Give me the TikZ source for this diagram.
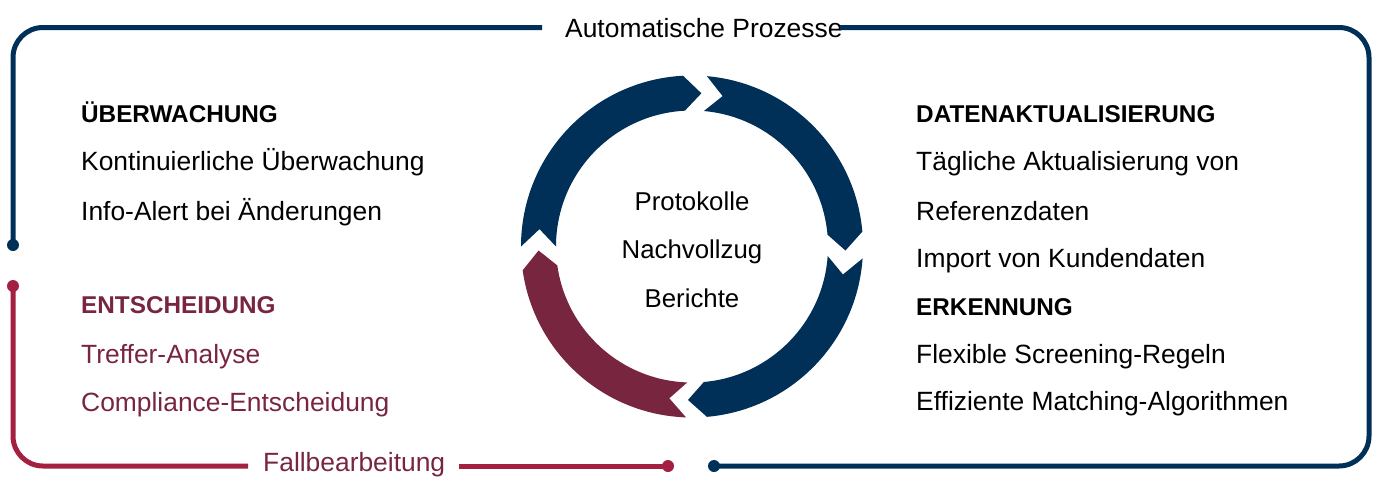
\documentclass[tikz,border=0pt]{standalone}
\usepackage{fontspec}
\setmainfont{Liberation Sans}
\definecolor{navy}{RGB}{0,48,87}
\definecolor{maroon}{RGB}{120,38,64}
\definecolor{framered}{RGB}{163,32,64}
\begin{document}
\begin{tikzpicture}[x=1pt,y=-1pt,
  txt/.style={anchor=base west, inner sep=0pt, font=\fontsize{26.4}{30}\selectfont},
  ctxt/.style={anchor=base, inner sep=0pt, font=\fontsize{25.8}{30}\selectfont},
  hd/.style={anchor=base west, inner sep=0pt, font=\fontsize{24.3}{28}\selectfont\bfseries},
  dotnode/.style={circle, inner sep=0pt, minimum size=12pt},
  navyline/.style={draw=navy, line width=5pt, rounded corners=30pt},
  redline/.style={draw=framered, line width=5pt, rounded corners=30pt}]
\useasboundingbox (0,0) rectangle (1378,477);

% ring
\begin{scope}[shift={(692,246.5)}, y=1pt]
  \def\Ro{171pt}\def\Ri{136pt}\def\Rm{153.5pt}\def\dd{6.5}
  \fill[navy] (180:\Ro) arc[start angle=180,end angle=93,radius=\Ro] -- (93-\dd:\Rm) -- (93:\Ri)
     arc[start angle=93,end angle=180,radius=\Ri] -- (180-\dd:\Rm) -- cycle;
  \fill[navy] (85:\Ro) arc[start angle=85,end angle=5,radius=\Ro] -- (5-\dd:\Rm) -- (5:\Ri)
     arc[start angle=5,end angle=85,radius=\Ri] -- (85-\dd:\Rm) -- cycle;
  \fill[navy] (-4:\Ro) arc[start angle=-4,end angle=-85,radius=\Ro] -- (-85-\dd:\Rm) -- (-85:\Ri)
     arc[start angle=-85,end angle=-4,radius=\Ri] -- (-4-\dd:\Rm) -- cycle;
  \fill[maroon] (-92:\Ro) arc[start angle=-92,end angle=-172,radius=\Ro] -- (-172-\dd:\Rm) -- (-172:\Ri)
     arc[start angle=-172,end angle=-92,radius=\Ri] -- (-92-\dd:\Rm) -- cycle;
\end{scope}

% centre text
\node[ctxt] (c1) at (692,210) {Protokolle};
\node[ctxt] (c2) at (692,258) {Nachvollzug};
\node[ctxt] (c3) at (692,307) {Berichte};

% frame labels
\node[txt] (auto) at (565,37) {Automatische Prozesse};
\node[txt, text=maroon] (fall) at (263,471) {Fallbearbeitung};
\coordinate (tl) at (542,27.5);
\coordinate (tr) at (840,27.5);
\coordinate (rl) at (248,466);
\coordinate (rr) at (459,466);

% dots
\node[dotnode, fill=navy] (bdotL) at (13,245) {};
\node[dotnode, fill=navy] (bdotB) at (714,466) {};
\node[dotnode, fill=framered] (rdotL) at (13,286) {};
\node[dotnode, fill=framered] (rdotB) at (668,466) {};

% frame lines
\draw[navyline] (tl) -- (13,27.5) -- (bdotL.center);
\draw[navyline] (tr) -- (1369,27.5) -- (1369,466) -- (bdotB.center);
\draw[redline] (rdotL.center) -- (13,466) -- (rl);
\draw[redline] (rr) -- (rdotB.center);

% left column
\node[hd] (h1) at (81,122) {ÜBERWACHUNG};
\node[txt] (l1) at (81,170) {Kontinuierliche Überwachung};
\node[txt] (l2) at (81,220) {Info-Alert bei Änderungen};
\node[hd, text=maroon] (h2) at (81,313) {ENTSCHEIDUNG};
\node[txt, text=maroon] (l3) at (81,363) {Treffer-Analyse};
\node[txt, text=maroon] (l4) at (81,411) {Compliance-Entscheidung};

% right column
\node[hd] (h3) at (916,122) {DATENAKTUALISIERUNG};
\node[txt] (r1) at (916,170) {Tägliche Aktualisierung von};
\node[txt] (r2) at (916,220) {Referenzdaten};
\node[txt] (r3) at (916,267) {Import von Kundendaten};
\node[hd] (h4) at (916,315) {ERKENNUNG};
\node[txt] (r4) at (916,363) {Flexible Screening-Regeln};
\node[txt] (r5) at (916,410) {Effiziente Matching-Algorithmen};
\end{tikzpicture}
\end{document}
